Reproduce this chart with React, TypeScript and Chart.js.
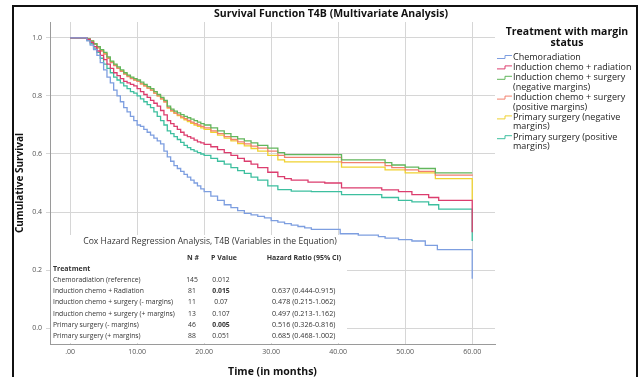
import React, { useEffect, useRef } from 'react';
import { Chart, registerables } from 'chart.js';

Chart.register(...registerables);

// ---------- text ----------
const chartTitle = 'Survival Function T4B (Multivariate Analysis)';
const xAxisTitle = 'Time (in months)';
const yAxisTitle = 'Cumulative Survival';
const legendTitle = ['Treatment with margin', 'status'];

const seriesLabels = [
  'Chemoradiation',
  'Induction chemo + radiation',
  'Induction chemo + surgery (negative margins)',
  'Induction chemo + surgery (positive margins)',
  'Primary surgery (negative margins)',
  'Primary surgery (positive margins)',
];
const seriesColors = ['#7d9ee0', '#dc3d6e', '#62b65c', '#f2806e', '#efd230', '#3dbf9f'];

// ---------- ticks ----------
const xTickValues = [0, 10, 20, 30, 40, 50, 60];
const xTickLabels = ['.00', '10.00', '20.00', '30.00', '40.00', '50.00', '60.00'];
const yTickValues = [0, 0.2, 0.4, 0.6, 0.8, 1.0];
const yTickLabels = ['0.0', '0.2', '0.4', '0.6', '0.8', '1.0'];

// ---------- survival data ----------
const earlyTime = [0, 2, 2.5, 3, 3.5, 4, 4.5, 5, 5.5, 6, 6.5, 7, 7.5, 8, 8.5, 9, 9.5, 10, 10.5, 11, 11.5, 12, 12.5, 13, 13.5, 14, 14.5, 15, 15.5, 16, 16.5, 17, 17.5, 18, 18.5, 19, 19.5, 20];

const chemoEarly = [1, 1, 0.99, 0.975, 0.96, 0.94, 0.915, 0.89, 0.865, 0.845, 0.82, 0.80, 0.78, 0.76, 0.745, 0.73, 0.715, 0.70, 0.695, 0.685, 0.675, 0.665, 0.655, 0.645, 0.635, 0.61, 0.59, 0.575, 0.56, 0.55, 0.54, 0.53, 0.52, 0.51, 0.50, 0.49, 0.48, 0.47];
const chemoLateTime = [21, 22, 23, 24, 25, 26, 27, 28, 29, 30, 31, 32, 33, 34, 35, 36, 40.3, 43, 46, 47, 49, 51, 53, 54.8, 60, 60];
const chemoLate = [0.455, 0.44, 0.425, 0.415, 0.405, 0.395, 0.39, 0.385, 0.38, 0.37, 0.365, 0.36, 0.355, 0.35, 0.345, 0.34, 0.325, 0.32, 0.315, 0.31, 0.305, 0.30, 0.285, 0.27, 0.27, 0.17];

const icrEarly = [1, 1, 0.995, 0.985, 0.97, 0.955, 0.94, 0.925, 0.91, 0.895, 0.88, 0.87, 0.86, 0.85, 0.845, 0.84, 0.835, 0.825, 0.815, 0.805, 0.795, 0.785, 0.775, 0.765, 0.75, 0.735, 0.715, 0.705, 0.695, 0.685, 0.675, 0.665, 0.66, 0.655, 0.648, 0.642, 0.638, 0.633];
const icrLateTime = [21, 22, 23, 24, 25, 26, 27, 28, 29.5, 31, 32, 33, 35.5, 38, 40.5, 46.5, 49, 51, 53.5, 55, 60, 60];
const icrLate = [0.625, 0.615, 0.605, 0.595, 0.585, 0.575, 0.565, 0.553, 0.537, 0.522, 0.515, 0.51, 0.503, 0.50, 0.483, 0.476, 0.47, 0.46, 0.45, 0.44, 0.435, 0.33];

const icsNegEarly = [1, 1, 0.997, 0.99, 0.98, 0.97, 0.96, 0.95, 0.935, 0.92, 0.91, 0.90, 0.89, 0.88, 0.872, 0.865, 0.86, 0.855, 0.848, 0.84, 0.832, 0.825, 0.815, 0.805, 0.795, 0.785, 0.765, 0.755, 0.748, 0.742, 0.736, 0.73, 0.725, 0.72, 0.715, 0.71, 0.705, 0.70];
const icsNegLateTime = [21, 22, 23, 24, 25, 26, 27, 28, 29.5, 31, 32, 40.5, 47, 48, 50, 52, 54.5, 60];
const icsNegLate = [0.69, 0.68, 0.67, 0.66, 0.652, 0.645, 0.638, 0.63, 0.62, 0.605, 0.598, 0.58, 0.57, 0.562, 0.555, 0.55, 0.535, 0.535];

const icsPosEarly = [1, 1, 0.996, 0.988, 0.978, 0.966, 0.955, 0.944, 0.93, 0.915, 0.905, 0.895, 0.885, 0.875, 0.867, 0.86, 0.855, 0.85, 0.842, 0.835, 0.827, 0.82, 0.81, 0.80, 0.79, 0.78, 0.76, 0.75, 0.742, 0.735, 0.728, 0.722, 0.716, 0.71, 0.705, 0.70, 0.695, 0.69];
const icsPosLateTime = [21, 22, 23, 24, 25, 26, 27, 28, 29.5, 31, 32, 40.5, 47, 48, 50, 52, 54.5, 60];
const icsPosLate = [0.68, 0.67, 0.66, 0.65, 0.642, 0.635, 0.627, 0.62, 0.61, 0.595, 0.588, 0.57, 0.56, 0.553, 0.545, 0.54, 0.527, 0.525];

const psNegEarly = [1, 1, 0.997, 0.99, 0.98, 0.968, 0.957, 0.946, 0.932, 0.918, 0.907, 0.897, 0.887, 0.877, 0.869, 0.862, 0.856, 0.85, 0.842, 0.835, 0.827, 0.82, 0.81, 0.80, 0.79, 0.78, 0.758, 0.748, 0.74, 0.732, 0.725, 0.718, 0.712, 0.706, 0.70, 0.695, 0.69, 0.685];
const psNegLateTime = [21, 22, 23, 24, 25, 26, 27, 28, 29.5, 31, 32, 40.5, 47, 50, 54.5, 60, 60];
const psNegLate = [0.675, 0.665, 0.655, 0.645, 0.636, 0.628, 0.619, 0.61, 0.595, 0.58, 0.573, 0.555, 0.545, 0.535, 0.515, 0.51, 0.44];

const psPosEarly = [1, 1, 0.993, 0.98, 0.965, 0.95, 0.93, 0.91, 0.895, 0.88, 0.865, 0.855, 0.845, 0.835, 0.825, 0.815, 0.81, 0.80, 0.79, 0.78, 0.77, 0.76, 0.745, 0.73, 0.715, 0.70, 0.68, 0.67, 0.66, 0.65, 0.64, 0.63, 0.622, 0.615, 0.61, 0.605, 0.60, 0.595];
const psPosLateTime = [21, 22, 23, 24, 25, 26, 27, 28, 29.5, 31, 33, 36, 40.5, 46.5, 49, 51, 53.5, 55, 60, 60];
const psPosLate = [0.585, 0.575, 0.565, 0.553, 0.543, 0.533, 0.52, 0.51, 0.49, 0.477, 0.472, 0.47, 0.46, 0.45, 0.44, 0.435, 0.425, 0.41, 0.407, 0.30];

// ---------- inset table ----------
const tableTitle = 'Cox Hazard Regression Analysis, T4B (Variables in the Equation)';
const tableHeaders = ['N #', 'P Value', 'Hazard Ratio (95% CI)'];
const tableGroupLabel = 'Treatment';
const tableRowLabels = [
  'Chemoradiation (reference)',
  'Induction chemo + Radiation',
  'Induction chemo + surgery (- margins)',
  'Induction chemo + surgery (+ margins)',
  'Primary surgery (- margins)',
  'Primary surgery (+ margins)',
];
const tableN = ['145', '81', '11', '13', '46', '88'];
const tableP = ['0.012', '0.015', '0.07', '0.107', '0.005', '0.051'];
const tablePBold = [false, true, false, false, true, false];
const tableHR = ['', '0.637 (0.444-0.915)', '0.478 (0.215-1.062)', '0.497 (0.213-1.162)', '0.516 (0.326-0.816)', '0.685 (0.468-1.002)'];

const FONT = "'Open Sans', 'DejaVu Sans', sans-serif";

const series = [
  [chemoEarly, chemoLateTime, chemoLate],
  [icrEarly, icrLateTime, icrLate],
  [icsNegEarly, icsNegLateTime, icsNegLate],
  [icsPosEarly, icsPosLateTime, icsPosLate],
  [psNegEarly, psNegLateTime, psNegLate],
  [psPosEarly, psPosLateTime, psPosLate],
];

function wrapLines(ctx: CanvasRenderingContext2D, text: string, maxW: number): string[] {
  const words = text.split(' ');
  const lines: string[] = [];
  let cur = '';
  for (const w of words) {
    const test = cur ? cur + ' ' + w : w;
    if (cur && ctx.measureText(test).width > maxW) {
      lines.push(cur);
      cur = w;
    } else cur = test;
  }
  if (cur) lines.push(cur);
  return lines;
}

const decorPlugin = {
  id: 'decor',
  afterDraw(chart: any) {
    const ctx: CanvasRenderingContext2D = chart.ctx;
    const ca = chart.chartArea;
    ctx.save();

    // Title
    ctx.fillStyle = '#111';
    ctx.font = `bold 10.5px ${FONT}`;
    ctx.textAlign = 'center';
    ctx.textBaseline = 'middle';
    ctx.fillText(chartTitle, 331, 14);

    // Legend
    const legCx = ca.right + 72;
    ctx.font = `bold 10.5px ${FONT}`;
    ctx.fillText(legendTitle[0], legCx, 32);
    ctx.fillText(legendTitle[1], legCx, 43);
    ctx.font = `9px ${FONT}`;
    ctx.textAlign = 'left';
    let y = 57;
    const textX = ca.right + 18;
    chart.data.datasets.forEach((ds: any) => {
      const lines = wrapLines(ctx, ds.label, 124);
      ctx.strokeStyle = ds.borderColor;
      ctx.lineWidth = 1;
      ctx.beginPath();
      ctx.moveTo(ca.right + 2, y + 1.5);
      ctx.lineTo(ca.right + 10, y + 1.5);
      ctx.lineTo(ca.right + 10, y - 1.5);
      ctx.lineTo(ca.right + 17, y - 1.5);
      ctx.stroke();
      ctx.fillStyle = '#222';
      lines.forEach((ln, i) => {
        ctx.fillText(ln, textX, y + i * 9.4);
      });
      y += (lines.length - 1) * 9.4 + 10.4;
    });

    // Inset table
    const bL = ca.left + 1;
    const bT = ca.bottom - 109;
    ctx.fillStyle = '#ffffff';
    ctx.fillRect(bL, bT, 296, 108);
    ctx.fillStyle = '#333';
    ctx.textAlign = 'center';
    ctx.font = `8.6px ${FONT}`;
    ctx.fillText(tableTitle, bL + 159, bT + 7);
    ctx.font = `bold 7px ${FONT}`;
    ctx.fillText(tableHeaders[0], bL + 142, bT + 23);
    ctx.fillText(tableHeaders[1], bL + 173, bT + 23);
    ctx.fillText(tableHeaders[2], bL + 253, bT + 23);
    ctx.textAlign = 'left';
    ctx.fillText(tableGroupLabel, bL + 2, bT + 34);
    tableRowLabels.forEach((lab, i) => {
      const ry = bT + 45 + i * 11.2;
      ctx.font = `6.8px ${FONT}`;
      ctx.textAlign = 'left';
      ctx.fillText(lab, bL + 2, ry);
      ctx.textAlign = 'center';
      ctx.fillText(tableN[i], bL + 141, ry);
      ctx.font = `${tablePBold[i] ? 'bold ' : ''}6.8px ${FONT}`;
      ctx.fillText(tableP[i], bL + 170, ry);
      ctx.font = `7.2px ${FONT}`;
      ctx.textAlign = 'left';
      ctx.fillText(tableHR[i], bL + 221, ry);
    });
    ctx.restore();
  },
};

export default function App() {
  const canvasRef = useRef<HTMLCanvasElement | null>(null);

  useEffect(() => {
    if (!canvasRef.current) return;
    const datasets = series.map(([early, lateT, late], si) => ({
      label: seriesLabels[si],
      data: [
        ...earlyTime.map((t, i) => ({ x: t, y: (early as number[])[i] })),
        ...(lateT as number[]).map((t, i) => ({ x: t, y: (late as number[])[i] })),
      ],
      borderColor: seriesColors[si],
      backgroundColor: seriesColors[si],
      borderWidth: 1.3,
      pointRadius: 0,
      fill: false,
      stepped: 'before' as const,
    }));

    const chart = new Chart(canvasRef.current, {
      type: 'line',
      data: { datasets },
      options: {
        animation: false,
        responsive: false,
        devicePixelRatio: 1,
        parsing: false as any,
        layout: { padding: { top: 22, right: 145, left: 0, bottom: 0 } },
        plugins: {
          legend: { display: false },
          title: { display: false },
          tooltip: { enabled: false },
        },
        scales: {
          x: {
            type: 'linear',
            min: -3,
            max: 63.4,
            afterBuildTicks: (s: any) => {
              s.ticks = xTickValues.map((v) => ({ value: v }));
            },
            afterFit: (s: any) => {
              s.height = 33;
            },
            ticks: {
              autoSkip: false,
              maxRotation: 0,
              padding: 4,
              color: '#555',
              font: { family: FONT, size: 7 },
              callback: (_v: any, i: number) => xTickLabels[i],
            },
            grid: { color: '#d6d6d6', drawTicks: false, lineWidth: 1 },
            border: { color: '#9a9a9a' },
            title: {
              display: true,
              text: xAxisTitle,
              color: '#111',
              font: { family: FONT, size: 10.5, weight: 'bold' },
              padding: { top: 0, bottom: -1.3 },
            },
          },
          y: {
            type: 'linear',
            min: -0.055,
            max: 1.055,
            afterBuildTicks: (s: any) => {
              s.ticks = yTickValues.map((v) => ({ value: v }));
            },
            afterFit: (s: any) => {
              s.width = 50;
            },
            ticks: {
              autoSkip: false,
              padding: 4,
              color: '#555',
              font: { family: FONT, size: 7 },
              callback: (_v: any, i: number) => yTickLabels[i],
            },
            grid: { color: '#d6d6d6', drawTicks: true, tickLength: 4, lineWidth: 1 },
            border: { color: '#9a9a9a' },
            title: {
              display: true,
              text: yAxisTitle,
              color: '#111',
              font: { family: FONT, size: 10, weight: 'bold' },
              padding: { top: 14, bottom: 0 },
            },
          },
        },
      },
      plugins: [decorPlugin],
    });
    return () => chart.destroy();
  }, []);

  return (
    <div style={{ position: 'fixed', left: 0, top: 0, width: 640, height: 377, background: '#fff' }}>
      <div
        style={{
          position: 'absolute',
          left: 12,
          top: 5,
          width: 626,
          height: 372,
          borderTop: '2px solid #111',
          borderLeft: '2px solid #111',
          borderRight: '2px solid #111',
          boxSizing: 'border-box',
        }}
      />
      <canvas ref={canvasRef} width={640} height={377} style={{ position: 'absolute', left: 0, top: 0, width: 640, height: 377 }} />
    </div>
  );
}
